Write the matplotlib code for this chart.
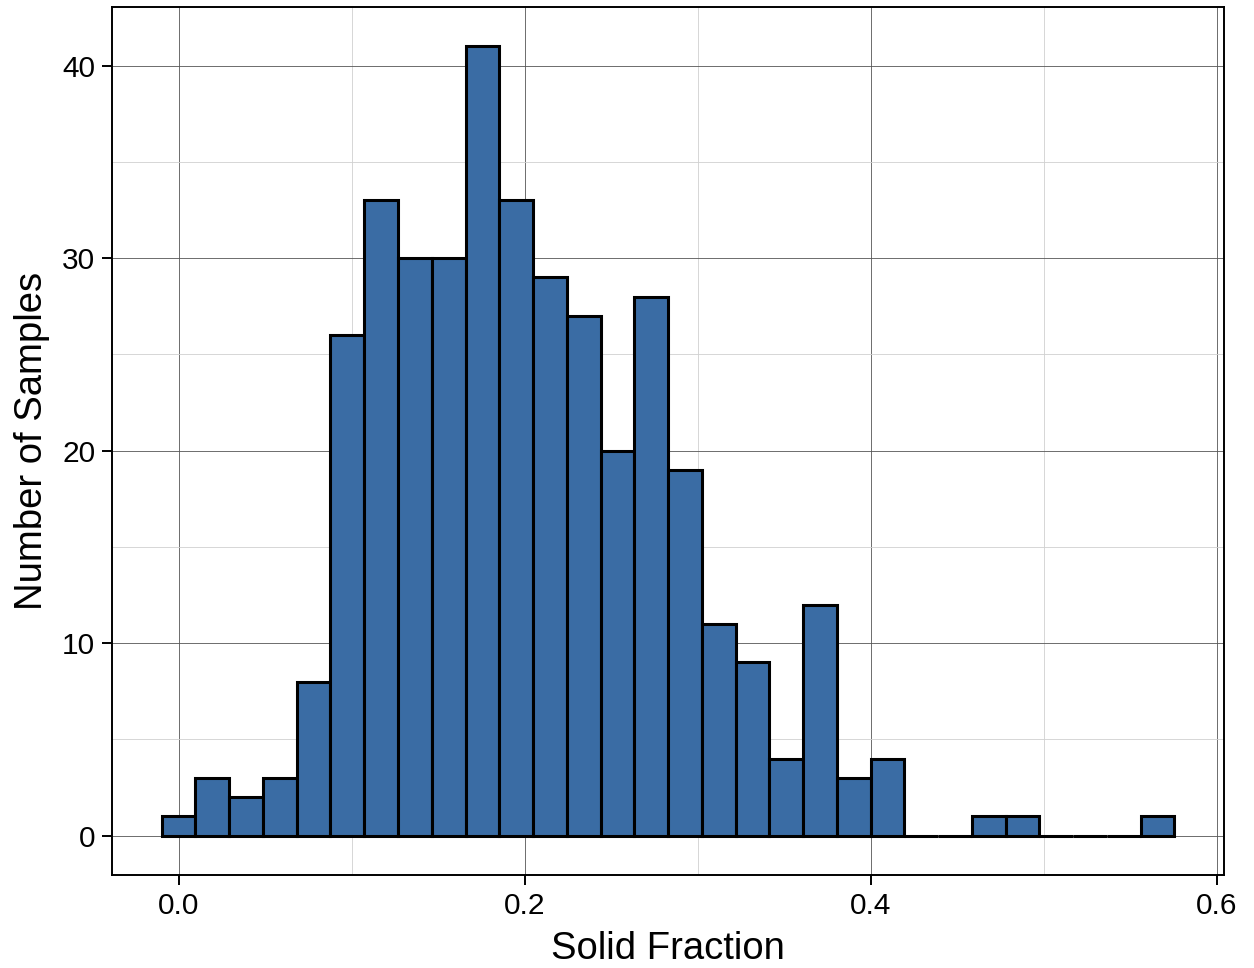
import numpy as np
import matplotlib.pyplot as plt

# histogram of solid fraction, 30 bins
bin_start = 0.0
bin_width = 0.0195
counts = [1, 3, 2, 3, 8, 26, 33, 30, 30, 41, 33, 29, 27, 20, 28,
          19, 11, 9, 4, 12, 3, 4, 0, 0, 1, 1, 0, 0, 0, 1]
x_ticks = [0.0, 0.2, 0.4, 0.6]
y_ticks = [0, 10, 20, 30, 40]

plt.rcParams['font.family'] = ['Liberation Sans', 'DejaVu Sans']

centers = bin_start + bin_width * np.arange(len(counts))

fig = plt.figure(figsize=(12.54, 9.68), dpi=100)
ax = fig.add_axes([0.0893, 0.0961, 0.8868, 0.8967])

ax.bar(centers, counts, width=bin_width, color='#3A6CA4', edgecolor='black',
       linewidth=2.2, zorder=3)

ax.set_xlim(-0.0385, 0.604)
ax.set_ylim(-2.05, 43.05)
ax.set_xticks(x_ticks)
ax.set_xticklabels(['{:.1f}'.format(t) for t in x_ticks])
ax.set_yticks(y_ticks)
ax.set_xticks([0.1, 0.3, 0.5], minor=True)
ax.set_yticks([5, 15, 25, 35], minor=True)

ax.grid(which='major', color='#555555', linewidth=0.6, zorder=0)
ax.grid(which='minor', color='#d0d0d0', linewidth=0.6, zorder=0)
ax.set_axisbelow(True)

for spine in ax.spines.values():
    spine.set_linewidth(1.4)
    spine.set_color('black')

ax.tick_params(which='major', length=7, width=1.4, labelsize=21.5, colors='black',
               pad=5)
ax.tick_params(which='minor', length=0)

ax.set_xlabel('Solid Fraction', fontsize=27.5, labelpad=8)
ax.set_ylabel('Number of Samples', fontsize=27.5, labelpad=9)

fig.savefig('out.png', dpi=100)
